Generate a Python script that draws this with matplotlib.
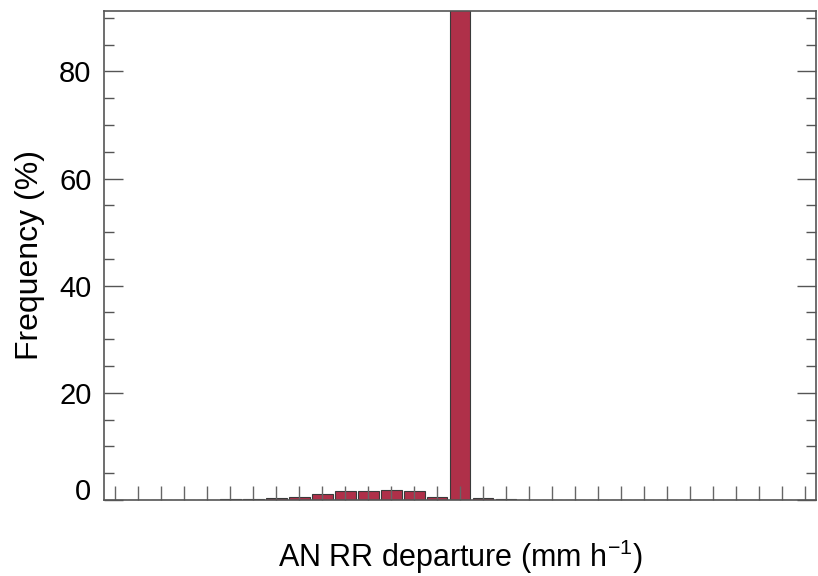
import numpy as np
import matplotlib
matplotlib.use("Agg")
import matplotlib.pyplot as plt
from matplotlib.ticker import MultipleLocator, NullFormatter

plt.rcParams['font.family'] = ['Liberation Sans', 'DejaVu Sans']

# bin centres of the departure histogram (mm h-1), and frequencies (%)
bins = np.arange(-15, 16)
freq = [0, 0, 0, 0, 0, 0.2, 0.2, 0.4, 0.6, 1.2, 1.6, 1.6, 1.8, 1.6, 0.6,
        92.0, 0.4, 0.2, 0, 0, 0, 0, 0, 0, 0, 0, 0, 0, 0, 0, 0]

fig = plt.figure(figsize=(8.18, 5.76), dpi=100)
ax = fig.add_axes([0.127, 0.132, 0.871, 0.849])

ax.bar(bins, freq, width=0.9, color='#AF3049', edgecolor='#3a3a3a', linewidth=0.8)

ax.set_xlim(-15.5, 15.5)
ax.set_ylim(0, 91.3)

ax.xaxis.set_major_locator(MultipleLocator(1))
ax.xaxis.set_major_formatter(NullFormatter())
ax.yaxis.set_major_locator(MultipleLocator(20))
ax.yaxis.set_minor_locator(MultipleLocator(5))

ax.tick_params(axis='x', direction='in', length=10, width=1, color='#666666',
               top=False, bottom=True)
ax.tick_params(axis='y', which='major', direction='in', length=14, width=1,
               color='#555555', left=True, right=True, labelsize=21, pad=9)
ax.tick_params(axis='y', which='minor', direction='in', length=7, width=1,
               color='#555555', left=True, right=True)

for s in ax.spines.values():
    s.set_color('#555555')
    s.set_linewidth(1.2)

# the "0" label sits on the bottom axis line, as in the original
locs = ax.yaxis.get_majorticklocs()
for loc, tick in zip(locs, ax.yaxis.get_major_ticks(len(locs))):
    if loc == 0:
        tick.label1.set_verticalalignment('baseline')

ax.set_ylabel('Frequency (%)', fontsize=23, labelpad=10)
ax.set_xlabel('AN RR departure (mm h$^{\\mathregular{-1}}$)', fontsize=22, labelpad=24)

fig.savefig('out.png', dpi=100)
